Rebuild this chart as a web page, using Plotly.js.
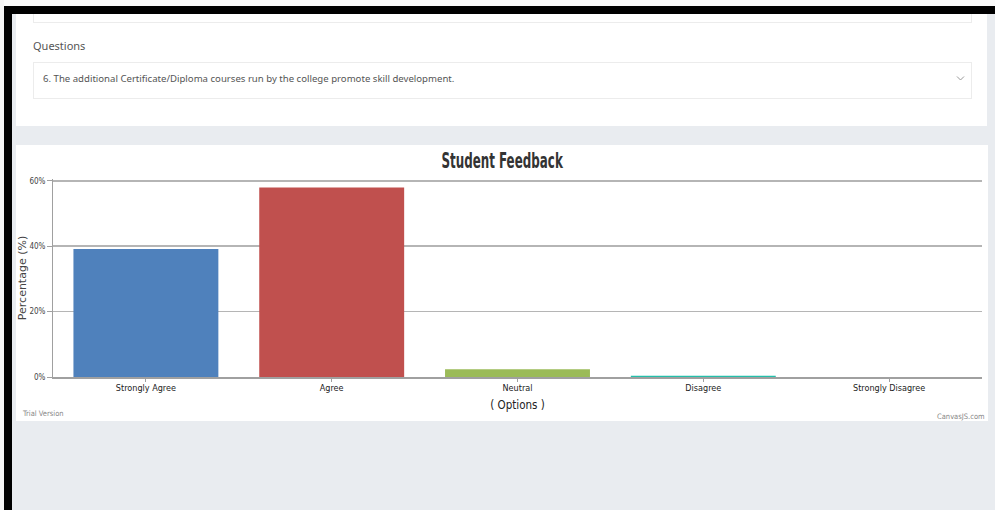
<!DOCTYPE html>
<html>
<head>
<meta charset="utf-8">
<script src="https://cdn.plot.ly/plotly-3.0.1.min.js"></script>
<style>
  html, body { margin:0; padding:0; }
  body { width:995px; height:510px; background:#e9ecf0; position:relative; overflow:hidden; font-family:"Noto Sans", "Open Sans", sans-serif; }
  .abs { position:absolute; }
  #topwhite { left:0; top:0; width:995px; height:6px; background:#fafafa; }
  #leftwhite { left:0; top:0; width:4px; height:510px; background:#f4f4f4; }
  #topblack { left:4px; top:6px; width:991px; height:8px; background:#000; }
  #leftblack { left:4px; top:6px; width:8px; height:504px; background:#000; }
  #card1 { left:16px; top:14px; width:971px; height:112px; background:#fff; }
  #card2 { left:16px; top:145px; width:972px; height:276px; background:#fff; }
  #input1 { left:33px; top:10px; width:937px; height:12px; border:1px solid #ececec; border-top:none; background:#fff; }
  #qlabel { left:33px; top:38px; font-size:11px; color:#555; }
  #select { left:33px; top:62px; width:937px; height:35px; border:1px solid #ececec; background:#fff; }
  #qtext { left:43px; top:72px; font-size:9.6px; color:#555; white-space:nowrap; }
  #chev { left:956px; top:75px; }
  #chart { left:16px; top:145px; width:972px; height:276px; }
  #chart .gtitle { transform-box: fill-box; transform-origin: center; transform: scaleX(0.63); }
</style>
</head>
<body>
<div id="topwhite" class="abs"></div>
<div id="leftwhite" class="abs"></div>
<div id="card1" class="abs"></div>
<div id="input1" class="abs"></div>
<div id="qlabel" class="abs">Questions</div>
<div id="select" class="abs"></div>
<div id="qtext" class="abs">6. The additional Certificate/Diploma courses run by the college promote skill development.</div>
<svg id="chev" class="abs" width="9" height="7"><polyline points="1,1.5 4.5,5 8,1.5" fill="none" stroke="#999" stroke-width="1"/></svg>
<div id="card2" class="abs"></div>
<div id="chart" class="abs"></div>
<div id="topblack" class="abs"></div>
<div id="leftblack" class="abs"></div>
<script>
const categories = ["Strongly Agree", "Agree", "Neutral", "Disagree", "Strongly Disagree"];
const percentages = [39.2, 58.0, 2.4, 0.4, 0];
const barColors = ["#4F81BC", "#C0504E", "#9BBB58", "#23BFAA", "#8064A1"];
const yTicks = [0, 20, 40, 60];
const yTickLabels = yTicks.map(v => v + "%");

const narrow = '"DejaVu Sans Condensed", "DejaVu Sans", sans-serif';

const trace = {
  type: "bar",
  x: categories,
  y: percentages,
  marker: { color: barColors, line: { width: 0 } },
  hoverinfo: "none"
};

const layout = {
  width: 972,
  height: 276,
  margin: { l: 37, r: 6, t: 33.7, b: 43.7, pad: 0 },
  paper_bgcolor: "rgba(0,0,0,0)",
  plot_bgcolor: "rgba(0,0,0,0)",
  bargap: 0.22,
  showlegend: false,
  title: {
    text: "<b>Student Feedback</b>",
    font: { family: narrow, size: 21, color: "#333333" },
    x: 0.5, xanchor: "center", xref: "container", y: 0.945, yanchor: "middle", yref: "container"
  },
  xaxis: {
    type: "category",
    showgrid: false,
    showline: true, linecolor: "#a0a0a0", linewidth: 1.6,
    ticks: "outside", ticklen: 3, tickcolor: "#a0a0a0", tickwidth: 1,
    ticklabelstandoff: -1,
    tickfont: { family: narrow, size: 9, color: "#222" },
    title: { text: "( Options )", font: { family: narrow, size: 11.5, color: "#222" }, standoff: 8 },
    fixedrange: true
  },
  yaxis: {
    range: [0, 60.6],
    tickmode: "array",
    tickvals: yTicks,
    ticktext: yTickLabels,
    showgrid: true, gridcolor: "#b5b5b5", gridwidth: 1.7,
    zeroline: false,
    showline: true, linecolor: "#a0a0a0", linewidth: 1,
    ticks: "outside", ticklen: 5, tickcolor: "#a0a0a0", tickwidth: 1,
    tickfont: { family: narrow, size: 8, color: "#444" },
    title: { text: "Percentage (%)", font: { family: '"DejaVu Sans", sans-serif', size: 11, color: "#444" }, standoff: 9 },
    fixedrange: true
  },
  annotations: [
    { text: "Trial Version", xref: "paper", yref: "paper", x: -0.036, y: -0.185, xanchor: "left", yanchor: "middle", showarrow: false,
      font: { family: narrow, size: 7.5, color: "#888" } },
    { text: "CanvasJS.com", xref: "paper", yref: "paper", x: 1.005, y: -0.2, xanchor: "right", yanchor: "middle", showarrow: false,
      font: { family: narrow, size: 7.5, color: "#888" } }
  ]
};

Plotly.newPlot("chart", [trace], layout, { displayModeBar: false, staticPlot: true });
</script>
</body>
</html>
